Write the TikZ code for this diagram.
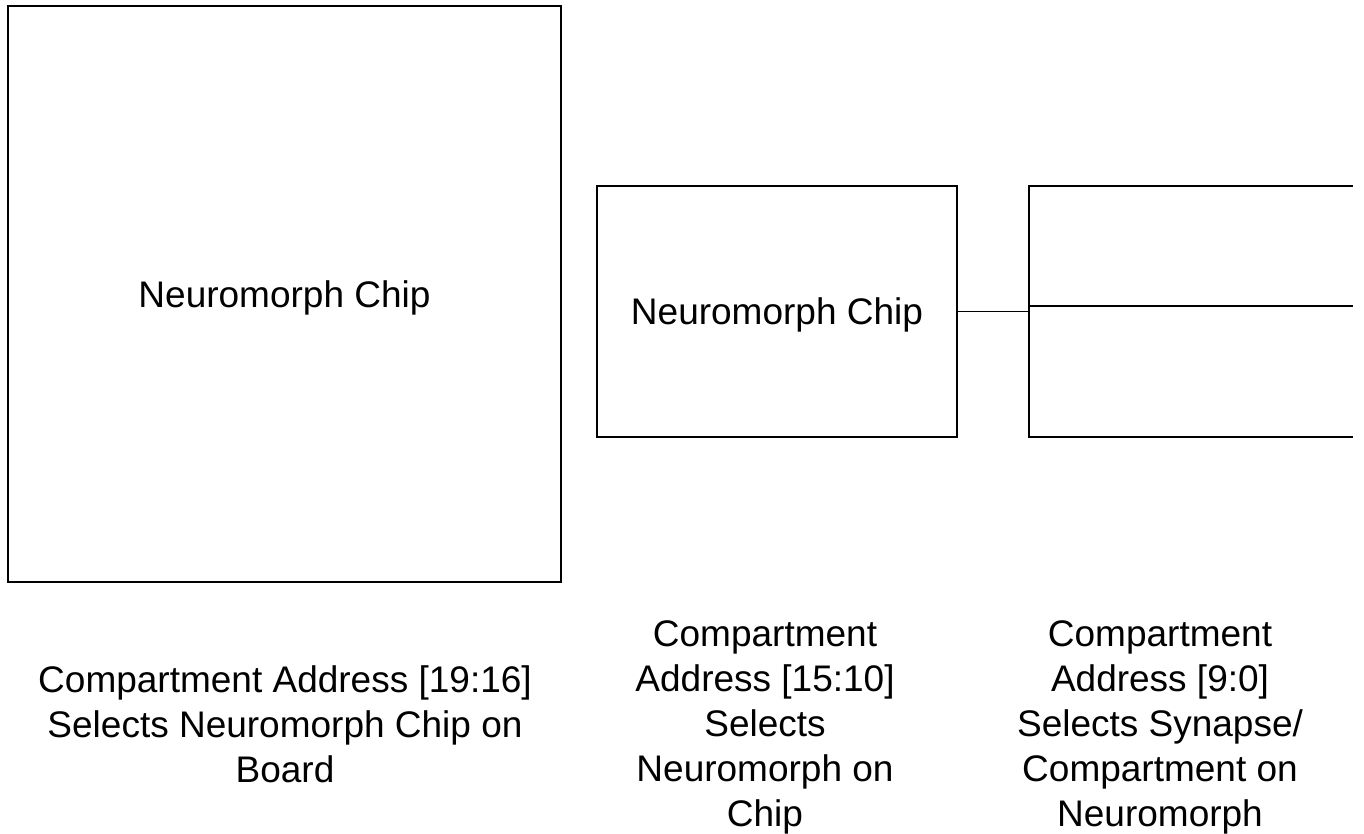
\documentclass[tikz,border=0pt]{standalone}
\usepackage{fontspec}
\setmainfont{Liberation Sans}
\begin{document}
\begin{tikzpicture}[x=1pt,y=-1pt,
  boxline/.style={line width=1.6pt, draw=black},
  chipbox/.style={boxline, rectangle, inner sep=0pt, text depth=0pt, font=\fontsize{37}{45}\selectfont},
  lbl/.style={anchor=north, inner sep=0pt, align=center, font=\fontsize{37}{45}\selectfont}
]
\useasboundingbox[fill=white] (0,0) rectangle (1364,834);

% big chip box
\node[chipbox, minimum width=553pt, minimum height=576pt] (chip1) at (284.5,294) {Neuromorph Chip};

% middle chip box
\node[chipbox, minimum width=360pt, minimum height=251pt] (chip2) at (777,311.5) {Neuromorph Chip};

% right (open) box
\node[rectangle, inner sep=0pt, minimum width=324pt, minimum height=251pt] (rbox) at (1191,311.5) {};
\draw[boxline] (rbox.north east) -- (rbox.north west) -- (rbox.south west) -- (rbox.south east);
\coordinate (divL) at (1029,306);
\coordinate (divR) at (1353,306);
\draw[boxline] (divL) -- (divR);

% connector
\draw[boxline] (chip2.east) -- (rbox.west);

% labels
\node[lbl] (lab1) at (285,665) {Compartment Address [19:16]\\Selects Neuromorph Chip on\\Board};
\node[lbl] (lab2) at (765,620) {Compartment\\Address [15:10]\\Selects\\Neuromorph on\\Chip};
\node[lbl] (lab3) at (1160,620) {Compartment\\Address [9:0]\\Selects Synapse/\\Compartment on\\Neuromorph};
\end{tikzpicture}
\end{document}
